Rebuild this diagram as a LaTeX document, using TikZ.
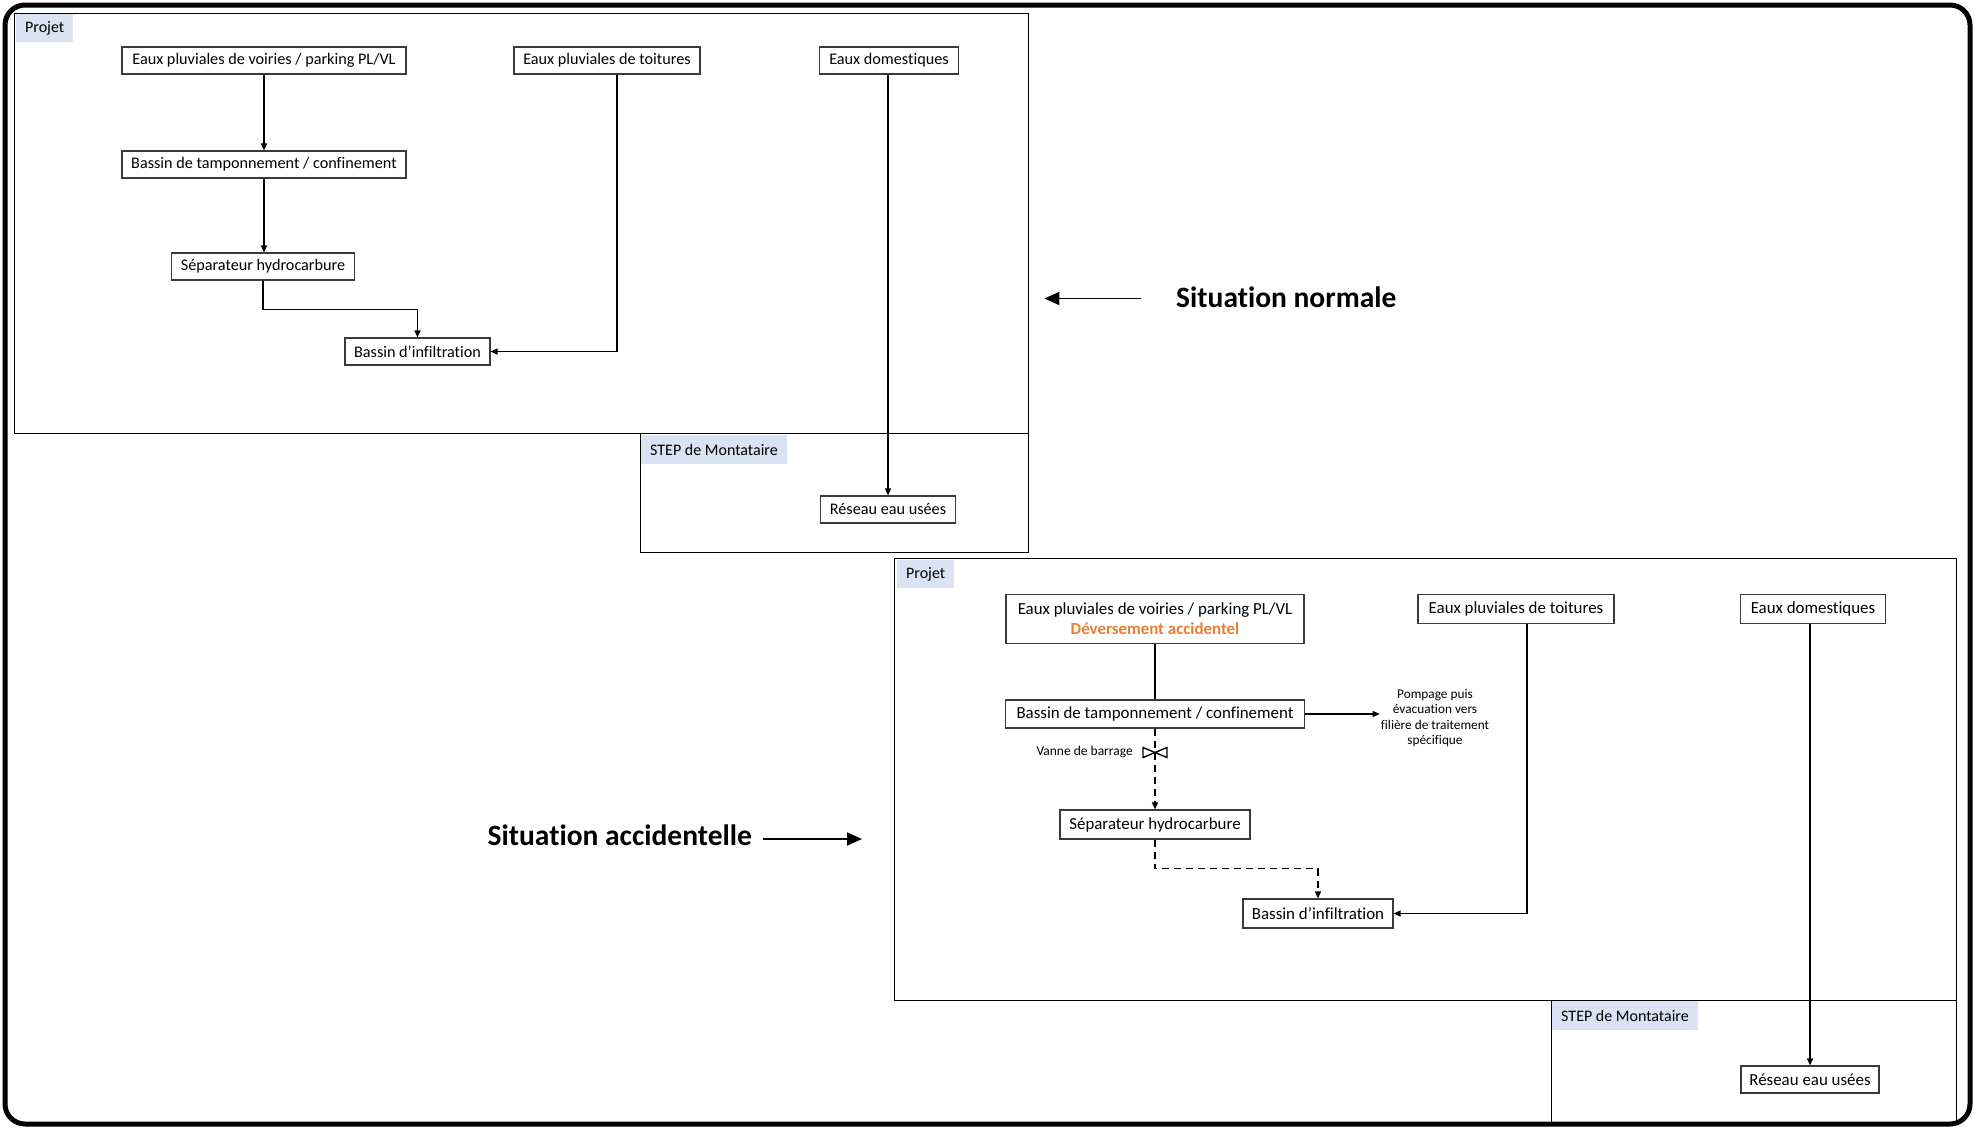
\documentclass[tikz,border=0pt]{standalone}
\usepackage{fontspec}
\setmainfont{Carlito}[Ligatures={NoCommon}]
\usetikzlibrary{arrows.meta,calc}
\definecolor{lblblue}{HTML}{DAE3F3}
\definecolor{accorange}{HTML}{ED7D31}
\definecolor{boxgray}{HTML}{3A3A3A}
\tikzset{
  grp/.style={draw=black, line width=1.4pt, inner sep=0pt, anchor=north west},
  lbl/.style={fill=lblblue, inner xsep=9pt, inner ysep=0pt, anchor=north west, font=\fontsize{16}{19}\selectfont, minimum height=28pt},
  boxA/.style={draw=boxgray, line width=1.1pt, fill=white, inner sep=0pt, align=center, font=\fontsize{16.2}{19.5}\selectfont, minimum height=27pt},
  boxB/.style={boxA, font=\fontsize{16.9}{21}\selectfont, minimum height=29pt},
  flow/.style={draw=black, line width=1.4pt, -{Triangle[length=7pt,width=6pt]}},
  plainline/.style={draw=black, line width=1.4pt},
  dflow/.style={flow, dash pattern=on 7pt off 5pt},
  sit/.style={font=\fontsize{29.5}{34}\selectfont\bfseries, inner sep=0pt},
  bigarrow/.style={draw=black, line width=1.8pt, -{Triangle[length=15pt,width=13pt]}},
  smalltxt/.style={font=\fontsize{13.3}{15.4}\selectfont, align=center, inner sep=0pt},
  vannetxt/.style={font=\fontsize{13.5}{16}\selectfont, inner sep=0pt},
  valve/.style={draw=black, line width=1.4pt, fill=white},
}
\begin{document}
\begin{tikzpicture}[x=1pt,y=-1pt]
\useasboundingbox (0,0) rectangle (1975,1127);
\draw[line width=5pt, rounded corners=20pt] (5,5) rectangle (1970,1124);

% ---------- Situation normale ----------
\node[grp, minimum width=1014pt, minimum height=420pt] (proj1) at (14,13) {};
\node[grp, minimum width=388pt, minimum height=119pt] (step1) at (640,433) {};
\node[lbl] (lp1) at (16,14) {Projet};
\node[lbl, minimum height=29pt] (ls1) at (641,435) {STEP de Montataire};

\node[boxA, minimum width=284pt] (V1) at (264,60.5) {Eaux pluviales de voiries / parking PL/VL};
\node[boxA, minimum width=186pt] (T1) at (607,60.5) {Eaux pluviales de toitures};
\node[boxA, minimum width=139pt] (D1) at (889,60.5) {Eaux domestiques};
\node[boxA, minimum width=284pt] (BT1) at (264,164.5) {Bassin de tamponnement / confinement};
\node[boxA, minimum width=183pt] (S1) at (263,266.5) {Séparateur hydrocarbure};
\node[boxA, minimum width=145pt] (I1) at (417.5,351.5) {Bassin d’infiltration};
\node[boxA, minimum width=135pt] (R1) at (888,509.5) {Réseau eau usées};

\draw[flow] (V1) -- (BT1);
\draw[flow] (BT1.south) -- (BT1.south |- S1.north);
\draw[flow] (S1.south) -- ++(0,29) -| (I1.north);
\draw[flow] ($(T1.south)+(10,0)$) |- (I1.east);
\draw[flow] (D1.south -| R1.north) -- (R1.north);

\node[sit, anchor=west] (sn) at (1176,297) {Situation normale};
\draw[bigarrow] ($(sn.west)+(-35,1.5)$) -- ($(proj1.east |- sn.west)+(15,1.5)$);

% ---------- Situation accidentelle ----------
\node[grp, minimum width=1062pt, minimum height=442pt] (proj2) at (894,558) {};
\node[grp, minimum width=405pt, minimum height=124pt] (step2) at (1551,1000) {};
\node[lbl] (lp2) at (897,560) {Projet};
\node[lbl, minimum height=29pt] (ls2) at (1552,1001) {STEP de Montataire};

\node[boxB, minimum width=298pt, minimum height=49pt] (V2) at (1155,619) {Eaux pluviales de voiries / parking PL/VL\\[-1pt]{\bfseries\color{accorange}Déversement accidentel}};
\node[boxB, minimum width=196pt] (T2) at (1516,609) {Eaux pluviales de toitures};
\node[boxB, minimum width=145pt] (D2) at (1813,609) {Eaux domestiques};
\node[boxB, minimum width=299pt, minimum height=28pt] (BT2) at (1155,714) {Bassin de tamponnement / confinement};
\node[boxB, minimum width=190pt] (S2) at (1155,824.5) {Séparateur hydrocarbure};
\node[boxB, minimum width=150pt] (I2) at (1318,913.5) {Bassin d’infiltration};
\node[boxB, minimum width=138pt, minimum height=27pt] (R2) at (1810,1079.5) {Réseau eau usées};

\node[smalltxt] (pomp) at (1435,718) {Pompage puis\\évacuation vers\\filière de traitement\\spécifique};

\draw[plainline] (V2) -- (BT2);
\draw[dflow] (BT2) -- (S2);
\draw[valve] (1143,747.5) -- (1143,757.5) -- (1155,752.5) -- cycle;
\draw[valve] (1167,747.5) -- (1167,757.5) -- (1155,752.5) -- cycle;
\node[vannetxt, anchor=east] (vt) at (1133,752) {Vanne de barrage};
\draw[dflow] (S2.south) -- ++(0,29) -| (I2.north);
\draw[flow] ($(T2.south)+(11,0)$) |- (I2.east);
\draw[flow] (D2.south -| R2.north) -- (R2.north);
\draw[flow] (BT2.east) -- ($(BT2.east -| pomp.west)+(-1,0)$);

\node[sit, anchor=west] (sa) at (487.5,835) {Situation accidentelle};
\draw[bigarrow] ($(sa.east)+(11,4)$) -- ($(proj2.west |- sa.east)+(-32,4)$);
\end{tikzpicture}
\end{document}
